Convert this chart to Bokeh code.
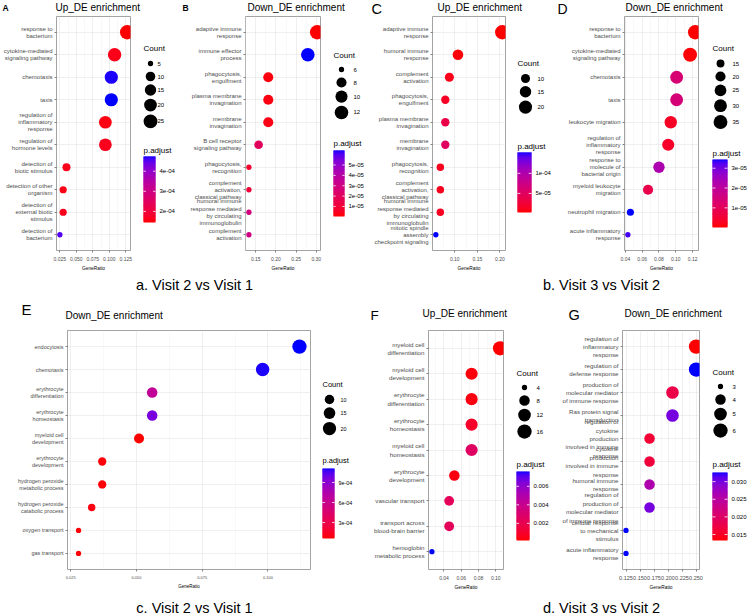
import numpy as np
from bokeh.plotting import figure
from bokeh.models import (ColumnDataSource, FactorRange, Range1d, FixedTicker, LinearColorMapper)
from bokeh.layouts import row, column
from bokeh.core.properties import value
from bokeh.embed import file_html
from bokeh.resources import INLINE

FONT = "Liberation Sans"

# ---------------------------------------------------------------- data
# A: up-regulated genes, visit 2 vs visit 1
A_terms = ["response to\nbacterium", "cytokine-mediated\nsignaling pathway", "chemotaxis", "taxis",
           "regulation of\ninflammatory\nresponse", "regulation of\nhormone levels",
           "detection of\nbiotic stimulus", "detection of other\norganism",
           "detection of\nexternal biotic\nstimulus", "detection of\nbacterium"]
A_ratio = [0.127, 0.108, 0.103, 0.103, 0.094, 0.094, 0.035, 0.030, 0.030, 0.025]
A_count = [27, 23, 22, 22, 20, 20, 7, 6, 6, 5]
A_padj = [1.45e-4, 1.60e-4, 4.70e-4, 4.73e-4, 1.55e-4, 1.65e-4, 1.62e-4, 1.58e-4, 1.62e-4, 4.55e-4]
A_xticks = [0.025, 0.050, 0.075, 0.100, 0.125]
A_xtick_labels = ["0.025", "0.050", "0.075", "0.100", "0.125"]
A_count_breaks = [5, 10, 15, 20, 25]
A_padj_breaks = [2e-4, 3e-4, 4e-4]
A_padj_labels = ["2e-04", "3e-04", "4e-04"]

# B: down-regulated genes, visit 2 vs visit 1
B_terms = ["adaptive immune\nresponse", "immune effector\nprocess", "phagocytosis,\nengulfment",
           "plasma membrane\ninvagination", "membrane\ninvagination", "B cell receptor\nsignaling pathway",
           "phagocytosis,\nrecognition", "complement\nactivation,\nclassical pathway",
           "humoral immune\nresponse mediated\nby circulating\nimmunoglobulin", "complement\nactivation"]
B_ratio = [0.302, 0.279, 0.181, 0.181, 0.181, 0.157, 0.133, 0.133, 0.133, 0.133]
B_count = [13, 12, 8, 8, 8, 7, 6, 6, 6, 6]
B_padj = [3e-7, 6.4e-5, 2e-6, 2.5e-6, 3e-6, 2.0e-5, 8e-6, 1.0e-5, 2.8e-5, 3.0e-5]
B_xticks = [0.15, 0.20, 0.25, 0.30]
B_xtick_labels = ["0.15", "0.20", "0.25", "0.30"]
B_count_breaks = [6, 8, 10, 12]
B_padj_breaks = [1e-5, 2e-5, 3e-5, 4e-5, 5e-5]
B_padj_labels = ["1e-05", "2e-05", "3e-05", "4e-05", "5e-05"]

# C: up-regulated genes, visit 3 vs visit 2
C_terms = ["adaptive immune\nresponse", "humoral immune\nresponse", "complement\nactivation",
           "phagocytosis,\nengulfment", "plasma membrane\ninvagination", "membrane\ninvagination",
           "phagocytosis,\nrecognition", "complement\nactivation,\nclassical pathway",
           "humoral immune\nresponse mediated\nby circulating\nimmunoglobulin",
           "mitotic spindle\nassembly\ncheckpoint signaling"]
C_ratio = [0.205, 0.107, 0.088, 0.079, 0.079, 0.079, 0.068, 0.068, 0.068, 0.058]
C_count = [24, 13, 10, 9, 9, 9, 8, 8, 8, 7]
C_padj = [2.5e-6, 5e-6, 1.0e-5, 1.5e-5, 3.5e-5, 5.0e-5, 1.2e-5, 1.2e-5, 1.4e-5, 1.52e-4]
C_xticks = [0.10, 0.15, 0.20]
C_xtick_labels = ["0.10", "0.15", "0.20"]
C_count_breaks = [10, 15, 20]
C_padj_breaks = [5e-5, 1e-4]
C_padj_labels = ["5e-05", "1e-04"]

# D: down-regulated genes, visit 3 vs visit 2
D_terms = ["response to\nbacterium", "cytokine-mediated\nsignaling pathway", "chemotaxis", "taxis",
           "leukocyte migration", "regulation of\ninflammatory\nresponse",
           "response to\nmolecule of\nbacterial origin", "myeloid leukocyte\nmigration",
           "neutrophil migration", "acute inflammatory\nresponse"]
D_ratio = [0.123, 0.117, 0.101, 0.101, 0.094, 0.091, 0.080, 0.067, 0.046, 0.043]
D_count = [37, 35, 30, 30, 28, 27, 24, 20, 14, 13]
D_padj = [1e-7, 5e-7, 1.4e-5, 1.45e-5, 3e-6, 3.5e-6, 2.3e-5, 8e-6, 3.44e-5, 3.3e-5]
D_xticks = [0.04, 0.06, 0.08, 0.10, 0.12]
D_xtick_labels = ["0.04", "0.06", "0.08", "0.10", "0.12"]
D_count_breaks = [15, 20, 25, 30, 35]
D_padj_breaks = [1e-5, 2e-5, 3e-5]
D_padj_labels = ["1e-05", "2e-05", "3e-05"]

# E: down-regulated genes, visit 2 vs visit 1
E_terms = ["endocytosis", "chemotaxis", "erythrocyte\ndifferentiation", "erythrocyte\nhomeostasis",
           "myeloid cell\ndevelopment", "erythrocyte\ndevelopment", "hydrogen peroxide\nmetabolic process",
           "hydrogen peroxide\ncatabolic process", "oxygen transport", "gas transport"]
E_ratio = [0.112, 0.098, 0.056, 0.056, 0.051, 0.037, 0.037, 0.033, 0.028, 0.028]
E_count = [24, 21, 12, 12, 11, 8, 8, 7, 6, 6]
E_padj = [1.11e-3, 1.10e-3, 6.5e-4, 9.6e-4, 6e-5, 8e-5, 8e-5, 9e-5, 7e-5, 7e-5]
E_xticks = [0.025, 0.050, 0.075, 0.100]
E_xtick_labels = ["0.025", "0.050", "0.075", "0.100"]
E_count_breaks = [10, 15, 20]
E_padj_breaks = [3e-4, 6e-4, 9e-4]
E_padj_labels = ["3e-04", "6e-04", "9e-04"]

# F: up-regulated genes, visit 3 vs visit 2
F_terms = ["myeloid cell\ndifferentiation", "myeloid cell\ndevelopment", "erythrocyte\ndifferentiation",
           "erythrocyte\nhomeostasis", "myeloid cell\nhomeostasis", "erythrocyte\ndevelopment",
           "vascular transport", "transport across\nblood-brain barrier", "hemoglobin\nmetabolic process"]
F_ratio = [0.105, 0.072, 0.072, 0.072, 0.072, 0.052, 0.046, 0.046, 0.026]
F_count = [16, 11, 11, 11, 11, 8, 7, 7, 4]
F_padj = [1.5e-4, 3e-4, 4e-4, 9e-4, 2.6e-3, 4e-4, 2.3e-3, 2.3e-3, 7.6e-3]
F_xticks = [0.04, 0.06, 0.08, 0.10]
F_xtick_labels = ["0.04", "0.06", "0.08", "0.10"]
F_count_breaks = [4, 8, 12, 16]
F_padj_breaks = [0.002, 0.004, 0.006]
F_padj_labels = ["0.002", "0.004", "0.006"]

# G: down-regulated genes, visit 3 vs visit 2
G_terms = ["regulation of\ninflammatory\nresponse", "regulation of\ndefense response",
           "production of\nmolecular mediator\nof immune response", "Ras protein signal\ntransduction",
           "regulation of\ncytokine\nproduction\ninvolved in immune\nresponse",
           "cytokine\nproduction\ninvolved in immune\nresponse", "humoral immune\nresponse",
           "regulation of\nproduction of\nmolecular mediator\nof immune response",
           "cellular response\nto mechanical\nstimulus", "acute inflammatory\nresponse"]
G_ratio = [0.250, 0.250, 0.208, 0.208, 0.167, 0.167, 0.167, 0.167, 0.125, 0.125]
G_count = [6, 6, 5, 5, 4, 4, 4, 4, 3, 3]
G_padj = [0.0133, 0.0326, 0.0175, 0.0300, 0.0160, 0.0165, 0.0260, 0.0300, 0.0326, 0.0326]
G_xticks = [0.125, 0.150, 0.175, 0.200, 0.225, 0.250]
G_xtick_labels = ["0.125", "0.150", "0.175", "0.200", "0.225", "0.250"]
G_count_breaks = [3, 4, 5, 6]
G_padj_breaks = [0.015, 0.020, 0.025, 0.030]
G_padj_labels = ["0.015", "0.020", "0.025", "0.030"]

TITLES_TOP = ["Up_DE enrichment", "Down_DE enrichment", "Up_DE enrichment", "Down_DE enrichment"]
LETTERS_TOP = ["A", "B", "C", "D"]
TITLES_BOTTOM = ["Down_DE enrichment", "Up_DE enrichment", "Down_DE enrichment"]
LETTERS_BOTTOM = ["E", "F", "G"]
CAPTIONS_TOP = ["a. Visit 2 vs Visit 1", "b. Visit 3 vs Visit 2"]
CAPTIONS_BOTTOM = ["c. Visit 2 vs Visit 1", "d. Visit 3 vs Visit 2"]


# ---------------------------------------------------------------- colour & size scales
def _lab_ramp(c0, c1, n=256):
    """Two-colour ramp interpolated in CIE Lab."""
    M = np.array([[0.4124564, 0.3575761, 0.1804375],
                  [0.2126729, 0.7151522, 0.0721750],
                  [0.0193339, 0.1191920, 0.9503041]])
    wp = np.array([0.95047, 1.0, 1.08883])
    d = 6 / 29

    def to_lab(rgb):
        c = np.asarray(rgb, float) / 255
        lin = np.where(c <= 0.04045, c / 12.92, ((c + 0.055) / 1.055) ** 2.4)
        xyz = M @ lin / wp
        f = np.where(xyz > d ** 3, np.cbrt(xyz), xyz / (3 * d * d) + 4 / 29)
        return np.array([116 * f[1] - 16, 500 * (f[0] - f[1]), 200 * (f[1] - f[2])])

    def to_hex(lab):
        fy = (lab[0] + 16) / 116
        f = np.array([fy + lab[1] / 500, fy, fy - lab[2] / 200])
        xyz = np.where(f > d, f ** 3, 3 * d * d * (f - 4 / 29)) * wp
        lin = np.clip(np.linalg.solve(M, xyz), 0, 1)
        c = np.where(lin <= 0.0031308, 12.92 * lin, 1.055 * lin ** (1 / 2.4) - 0.055)
        r, g, b = (np.clip(np.round(c * 255), 0, 255)).astype(int)
        return "#%02x%02x%02x" % (r, g, b)

    a, b = to_lab(c0), to_lab(c1)
    return [to_hex(a + (b - a) * t) for t in np.linspace(0, 1, n)]


PALETTE = _lab_ramp((255, 0, 0), (0, 0, 255))
D_MIN, D_MAX = 5.3, 14.3


def dot_size(counts, cmin, cmax):
    c = np.asarray(counts, float)
    return list(D_MIN + (D_MAX - D_MIN) * np.sqrt(np.clip((c - cmin) / (cmax - cmin), 0, 1)))


def blank_fig(W, H):
    """A figure whose data space is its own pixel grid."""
    p = figure(frame_width=W, frame_height=H, x_range=Range1d(0, W), y_range=Range1d(0, H),
               x_axis_type=None, y_axis_type=None, toolbar_location=None, output_backend="svg",
               min_border=0, min_border_left=0, min_border_right=0, min_border_top=0,
               min_border_bottom=0)
    p.outline_line_color = None
    p.grid.visible = False
    return p


# ---------------------------------------------------------------- panel builders
def dot_fig(terms, ratio, count, padj, xticks, xlabels, S):
    lo, hi = min(ratio), max(ratio)
    pad = 0.05 * (hi - lo)
    p = figure(width=S["w"], height=S["h"], x_range=Range1d(lo - pad, hi + pad),
               y_range=FactorRange(factors=terms[::-1], range_padding=0.2, range_padding_units="absolute"),
               toolbar_location=None, output_backend="svg",
               min_border_left=S["bl"], min_border_right=S["br"],
               min_border_top=S["bt"], min_border_bottom=S["bb"])
    src = ColumnDataSource(dict(term=terms, ratio=ratio, count=count, padj=padj,
                                size=dot_size(count, min(count), max(count))))
    mapper = LinearColorMapper(palette=PALETTE, low=min(padj), high=max(padj))
    p.scatter("ratio", "term", size="size", source=src,
              fill_color={"field": "padj", "transform": mapper}, line_color=None)

    step = xticks[1] - xticks[0]
    minor = [xticks[0] - step / 2] + [(a + b) / 2 for a, b in zip(xticks[:-1], xticks[1:])] + [xticks[-1] + step / 2]
    p.xaxis.ticker = FixedTicker(ticks=xticks, minor_ticks=minor)
    p.xaxis.major_label_overrides = dict(zip(xticks, xlabels))
    p.xaxis.axis_label = "GeneRatio"
    p.xaxis.axis_label_text_font_size = S["lfs"]
    p.xaxis.axis_label_text_font_style = "normal"
    p.xaxis.axis_label_text_font = FONT
    p.xaxis.axis_label_text_color = "black"
    p.xaxis.axis_label_standoff = 2
    p.xaxis.major_label_text_font_size = S["xfs"]
    p.yaxis.major_label_text_font_size = S["yfs"]
    for ax in (p.xaxis[0], p.yaxis[0]):
        ax.axis_line_color = None
        ax.major_tick_line_color = "#333333"
        ax.major_tick_line_width = 0.6
        ax.major_tick_out = 2
        ax.major_tick_in = 0
        ax.minor_tick_line_color = None
        ax.major_label_text_color = "#4d4d4d"
        ax.major_label_text_font = FONT
        ax.major_label_standoff = 2
    p.yaxis.major_label_text_line_height = 1.2
    p.yaxis.major_label_text_align = "right"

    p.xgrid.grid_line_color = "#e4e4e4"
    p.xgrid.grid_line_width = 0.6
    p.xgrid.minor_grid_line_color = "#f0f0f0"
    p.xgrid.minor_grid_line_width = 0.5
    p.ygrid.grid_line_color = "#e4e4e4"
    p.ygrid.grid_line_width = 0.6
    p.outline_line_color = "#8c8c8c"
    p.outline_line_width = 0.8
    p.background_fill_color = "white"
    p.border_fill_color = "white"
    return p


def legend_fig(count, padj, breaks, pbreaks, plabels, G, top):
    """Size guide ("Count") and colour guide ("p.adjust"); G holds row-relative pixel positions."""
    W, H = G["w"], G["h"]
    p = blank_fig(W, H)
    Y = lambda y: H - (y - top)
    lx = G["lx"]

    # colour guide: thin overlapping strips coloured through the same mapper as the dots
    low, high = min(padj), max(padj)
    mapper = LinearColorMapper(palette=PALETTE, low=low, high=high)
    bh = G["bbot"] - G["btop"]
    y0 = Y(G["bbot"])
    nstrip = 60
    frac = np.arange(nstrip) / nstrip
    tops = np.minimum(y0 + (frac + 1 / nstrip) * bh + 1.0, y0 + bh)
    strips = ColumnDataSource(dict(bottom=y0 + frac * bh, top=tops,
                                   v=low + (frac + 0.5 / nstrip) * (high - low)))
    p.quad(left=lx, right=lx + G["bw"], bottom="bottom", top="top", source=strips,
           fill_color={"field": "v", "transform": mapper}, line_color=None)
    tick_y = [y0 + (t - low) / (high - low) * bh for t in pbreaks]
    tw = G["bw"] / 5
    p.segment(x0=lx, x1=lx + tw, y0=tick_y, y1=tick_y, line_color="white", line_width=0.8)
    p.segment(x0=lx + G["bw"] - tw, x1=lx + G["bw"], y0=tick_y, y1=tick_y, line_color="white", line_width=0.8)
    p.text(x=lx + G["bw"] + 4, y=tick_y, text=plabels, text_font=value(FONT),
           text_font_size=G["lfs"], text_baseline="middle", text_color="black")
    p.text(x=[lx], y=[Y(G["pt"])], text=["p.adjust"], text_font=value(FONT), text_font_size=G["tfs"],
           text_baseline="middle", text_color="black")

    # size guide
    ds = dot_size(breaks, min(count), max(count))
    ys = [G["k0"]]
    for a, b in zip(ds[:-1], ds[1:]):
        ys.append(ys[-1] + max(13.0, (a + b) / 2 + 3))
    src = ColumnDataSource(dict(y=[Y(v) for v in ys], size=ds, label=[str(b) for b in breaks]))
    p.scatter(x=lx + G["kx"], y="y", size="size", source=src, color="black", line_color=None)
    p.text(x=lx + G["lbx"], y="y", text="label", source=src, text_font=value(FONT),
           text_font_size=G["lfs"], text_baseline="middle", text_color="black")
    p.text(x=[lx], y=[Y(G["ct"])], text=["Count"], text_font=value(FONT), text_font_size=G["tfs"],
           text_baseline="middle", text_color="black")
    return p


def header_fig(W, H, titles, letters, HS):
    p = blank_fig(W, H)
    Y = lambda y: H - y
    p.text(x=HS["tx"], y=[Y(v) for v in HS["ty"]], text=titles, text_font=value(FONT),
           text_font_size=value(HS["tfs"]), text_baseline="middle", text_color="black")
    for x, y, t, fs, st in zip(HS["lx"], HS["ly"], letters, HS["lfs"], HS["lst"]):
        p.text(x=[x], y=[Y(y)], text=[t], text_font=value(FONT), text_font_size=fs,
               text_font_style=st, text_baseline="middle", text_color="black")
    return p


def caption_fig(texts, xs, ty, W, H, fs):
    p = blank_fig(W, H)
    p.text(x=xs, y=[H - ty] * len(texts), text=texts, text_font=value(FONT), text_font_size=fs,
           text_align="center", text_baseline="middle", text_color="black")
    return p


# ---------------------------------------------------------------- layout settings
TOP_H, BOT_H, CAP_H = 274, 294, 24
HEAD_TOP, HEAD_BOT = 16, 25


def main_style(w, h, bl, br, bt, bb, yfs="6px", xfs="5px", lfs="4.8px"):
    return dict(w=w, h=h, bl=bl, br=br, bt=bt, bb=bb, yfs=yfs, xfs=xfs, lfs=lfs)


def legend_style(w, h, lx, ct, k0, pt, btop, bbot, bw, tfs="8px", lfs="6px", kx=8, lbx=20):
    return dict(w=w, h=h, lx=lx, ct=ct, k0=k0, pt=pt, btop=btop, bbot=bbot, bw=bw,
                tfs=tfs, lfs=lfs, kx=kx, lbx=lbx)


ht, hb = TOP_H - HEAD_TOP, BOT_H - HEAD_BOT
SA = main_style(138, ht, 50, 8, 0, 24)
SB = main_style(148, ht, 65, 8, 0, 24)
SC = main_style(142, ht, 62, 7, 0, 18)
SD = main_style(150, ht, 69, 7, 0, 18)
SE = main_style(316, hb, 67, 6, 2, 15, yfs="5.5px", xfs="4px", lfs="4.5px")
SF = main_style(138, hb, 52, 5, 0, 22, yfs="6.2px")
SG = main_style(150, hb, 67, 6, 7, 22, yfs="6.2px", xfs="5.5px")

LA = legend_style(42, ht, 5, 48, 63, 150, 156, 222, 12, kx=7, lbx=14)
LB = legend_style(42, ht, 5, 55, 69, 143, 150, 216, 11)
LC = legend_style(43, ht, 5, 63, 78, 146, 152, 212, 14)
LD = legend_style(43, ht, 7, 48, 63, 153, 159, 227, 15)
LE = legend_style(54, hb, 6, 79, 94, 155, 163, 233, 12, tfs="7.5px", lfs="5.4px", kx=7, lbx=18)
LF = legend_style(47, hb, 8, 68, 82, 159, 166, 235, 13)
LG = legend_style(43, hb, 7, 67, 81, 159, 167, 235, 15)

HEAD_TOP_STYLE = dict(tx=[55, 247, 437, 625], ty=[7, 6.5, 6.7, 6.7], tfs="10px",
                      lx=[2, 182, 371, 557], ly=[7, 7, 8.3, 8.3],
                      lfs=["8.5px", "8.5px", "14.5px", "14px"], lst=["bold", "bold", "normal", "normal"])
HEAD_BOT_STYLE = dict(tx=[65, 422, 624], ty=[17, 15.3, 15.3], tfs="10px",
                      lx=[21, 370, 568], ly=[11, 17, 16.5],
                      lfs=["15px", "13.5px", "14.5px"], lst=["normal", "normal", "normal"])

panels_top = [
    (A_terms, A_ratio, A_count, A_padj, A_xticks, A_xtick_labels, A_count_breaks, A_padj_breaks, A_padj_labels, SA, LA),
    (B_terms, B_ratio, B_count, B_padj, B_xticks, B_xtick_labels, B_count_breaks, B_padj_breaks, B_padj_labels, SB, LB),
    (C_terms, C_ratio, C_count, C_padj, C_xticks, C_xtick_labels, C_count_breaks, C_padj_breaks, C_padj_labels, SC, LC),
    (D_terms, D_ratio, D_count, D_padj, D_xticks, D_xtick_labels, D_count_breaks, D_padj_breaks, D_padj_labels, SD, LD),
]
panels_bottom = [
    (E_terms, E_ratio, E_count, E_padj, E_xticks, E_xtick_labels, E_count_breaks, E_padj_breaks, E_padj_labels, SE, LE),
    (F_terms, F_ratio, F_count, F_padj, F_xticks, F_xtick_labels, F_count_breaks, F_padj_breaks, F_padj_labels, SF, LF),
    (G_terms, G_ratio, G_count, G_padj, G_xticks, G_xtick_labels, G_count_breaks, G_padj_breaks, G_padj_labels, SG, LG),
]


def build_row(panels, head_h, titles, letters, HS):
    figs = []
    for terms, ratio, count, padj, xt, xl, cb, pb, pl, S, L in panels:
        figs.append(dot_fig(terms, ratio, count, padj, xt, xl, S))
        figs.append(legend_fig(count, padj, cb, pb, pl, L, head_h))
    return column(header_fig(748, head_h, titles, letters, HS), row(*figs, spacing=0), spacing=0)


page = column(
    build_row(panels_top, HEAD_TOP, TITLES_TOP, LETTERS_TOP, HEAD_TOP_STYLE),
    caption_fig(CAPTIONS_TOP, [194, 601], 10, 748, CAP_H, "14.5px"),
    build_row(panels_bottom, HEAD_BOT, TITLES_BOTTOM, LETTERS_BOTTOM, HEAD_BOT_STYLE),
    caption_fig(CAPTIONS_BOTTOM, [194, 601], 15, 748, CAP_H, "14.5px"),
    spacing=0,
)

open("out.html", "w").write(file_html(page, INLINE))
